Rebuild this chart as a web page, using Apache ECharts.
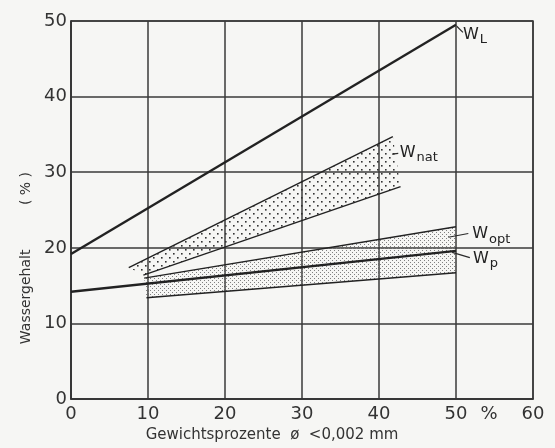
<!DOCTYPE html>
<html><head><meta charset="utf-8">
<script src="https://cdn.jsdelivr.net/npm/echarts@6/dist/echarts.min.js"></script>
<style>html,body{margin:0;padding:0;background:#f6f6f4}#c{width:555px;height:448px}</style>
</head><body><div id="c"></div>
<script>
// ---- data ----
const xTicks = [0, 10, 20, 30, 40, 50, 60];
const yTicks = [0, 10, 20, 30, 40, 50];
const lineWL = [[0, 19.2], [50, 49.5]];
const lineWp = [[0, 14.2], [50, 19.6]];
const natUpper = [[7.5, 17.4], [41.8, 34.7]];
const natLower = [[9.4, 16.4], [42.8, 28.1]];
const optUpper = [[9.5, 16.0], [50, 22.8]];
const optLower = [[9.8, 13.4], [50, 16.7]];
const labelSubs = ['L', 'nat', 'opt', 'p'];
const labelPos = [[50.9, 48.2], [42.7, 32.6], [52.1, 21.8], [52.2, 18.6]];
const leaders = [[50.1, 49.3, 50.9, 48.5], [41.7, 32.4, 42.5, 32.5], [49.0, 21.4, 51.6, 21.9], [49.5, 19.4, 51.8, 18.7]];
const percentPos = [54.3, 0];
const xName = 'Gewichtsprozente  ø  <0,002 mm';
const yName = 'Wassergehalt          ( % )';

function pattern(size, dots, color, r) {
  const c = document.createElement('canvas');
  c.width = size; c.height = size;
  const g = c.getContext('2d');
  g.fillStyle = color;
  dots.forEach(d => { g.fillRect(d[0], d[1], r, r); });
  return { image: c, repeat: 'repeat' };
}
const natFill = pattern(8, [[1, 1], [5, 5]], '#333', 1.6);
const optFill = pattern(4, [[0, 0], [2, 2]], '#808080', 1);

const chart = echarts.init(document.getElementById('c'));
const font = 'DejaVu Sans';
function band(upper, lower, fill, z) {
  return {
    type: 'custom', z: z, silent: true,
    data: [0],
    renderItem: function (params, api) {
      const pts = upper.map(p => api.coord(p)).concat(lower.slice().reverse().map(p => api.coord(p)));
      return { type: 'polygon', shape: { points: pts }, style: { fill: fill, stroke: null } };
    }
  };
}
function boundary(d, w) {
  return { type: 'line', data: d, symbol: 'none', silent: true, z: 5,
    lineStyle: { color: '#222', width: w } };
}
chart.setOption({
  backgroundColor: '#f6f6f4',
  animation: false,
  grid: { left: 71, top: 21, width: 462, height: 386, show: true, borderColor: '#3a3a3a', borderWidth: 1.5 },
  xAxis: {
    type: 'value', min: 0, max: 60, interval: 10,
    axisLine: { show: true, lineStyle: { color: '#333', width: 1.5 } },
    axisTick: { show: false },
    splitLine: { show: true, lineStyle: { color: '#3a3a3a', width: 1.5 } },
    axisLabel: { margin: 6, color: '#333', fontSize: 18, fontFamily: font,
      formatter: v => xTicks.indexOf(v) >= 0 ? String(v) : '' },
    name: xName, nameLocation: 'middle', nameGap: 24,
    nameTextStyle: { fontSize: 15, fontFamily: font, color: '#333', padding: [0, 60, 0, 0] }
  },
  yAxis: {
    type: 'value', min: 0, max: 50, interval: 10,
    axisLine: { show: true, lineStyle: { color: '#333', width: 1.5 } },
    axisTick: { show: false },
    splitLine: { show: true, lineStyle: { color: '#3a3a3a', width: 1.5 } },
    axisLabel: { margin: 4, color: '#333', fontSize: 18, fontFamily: font,
      formatter: v => yTicks.indexOf(v) >= 0 ? String(v) : '' },
    name: yName, nameLocation: 'middle', nameGap: 36, nameRotate: 90,
    nameTextStyle: { fontSize: 14, fontFamily: font, color: '#333', padding: [0, 96, 0, 0] }
  },
  series: [
    band(natUpper, natLower, natFill, 2),
    band(optUpper, optLower, optFill, 2),
    boundary(natUpper, 1.4), boundary(natLower, 1.4),
    boundary(optUpper, 1.4), boundary(optLower, 1.4),
    boundary(lineWL, 2.4), boundary(lineWp, 2.4),
    {
      type: 'custom', silent: true, z: 6, data: leaders,
      renderItem: function (params, api) {
        const a = api.coord([api.value(0), api.value(1)]);
        const b = api.coord([api.value(2), api.value(3)]);
        return { type: 'line', shape: { x1: a[0], y1: a[1], x2: b[0], y2: b[1] }, style: { stroke: '#2a2a2a', lineWidth: 1.2 } };
      }
    },
    {
      type: 'custom', silent: true, z: 7, clip: false,
      data: labelPos.map((p, i) => [p[0], p[1], i]),
      renderItem: function (params, api) {
        const p = api.coord([api.value(0), api.value(1)]);
        const sub = labelSubs[api.value(2)];
        return { type: 'text', x: p[0], y: p[1], style: {
          text: '{w|W}{s|' + sub + '}', align: 'left', verticalAlign: 'middle', fill: '#222',
          rich: { w: { fontSize: 16, fontFamily: font, fill: '#222', lineHeight: 20 },
                  s: { fontSize: 13, fontFamily: font, fill: '#222', padding: [10, 0, 0, 1] } } } };
      }
    },
    {
      type: 'custom', silent: true, z: 7, clip: false, data: [percentPos],
      renderItem: function (params, api) {
        const p = api.coord([api.value(0), api.value(1)]);
        return { type: 'text', x: p[0], y: p[1] + 15, style: { text: '%', align: 'center', verticalAlign: 'middle', fill: '#333', fontSize: 18, fontFamily: font } };
      }
    }
  ]
});
</script></body></html>
